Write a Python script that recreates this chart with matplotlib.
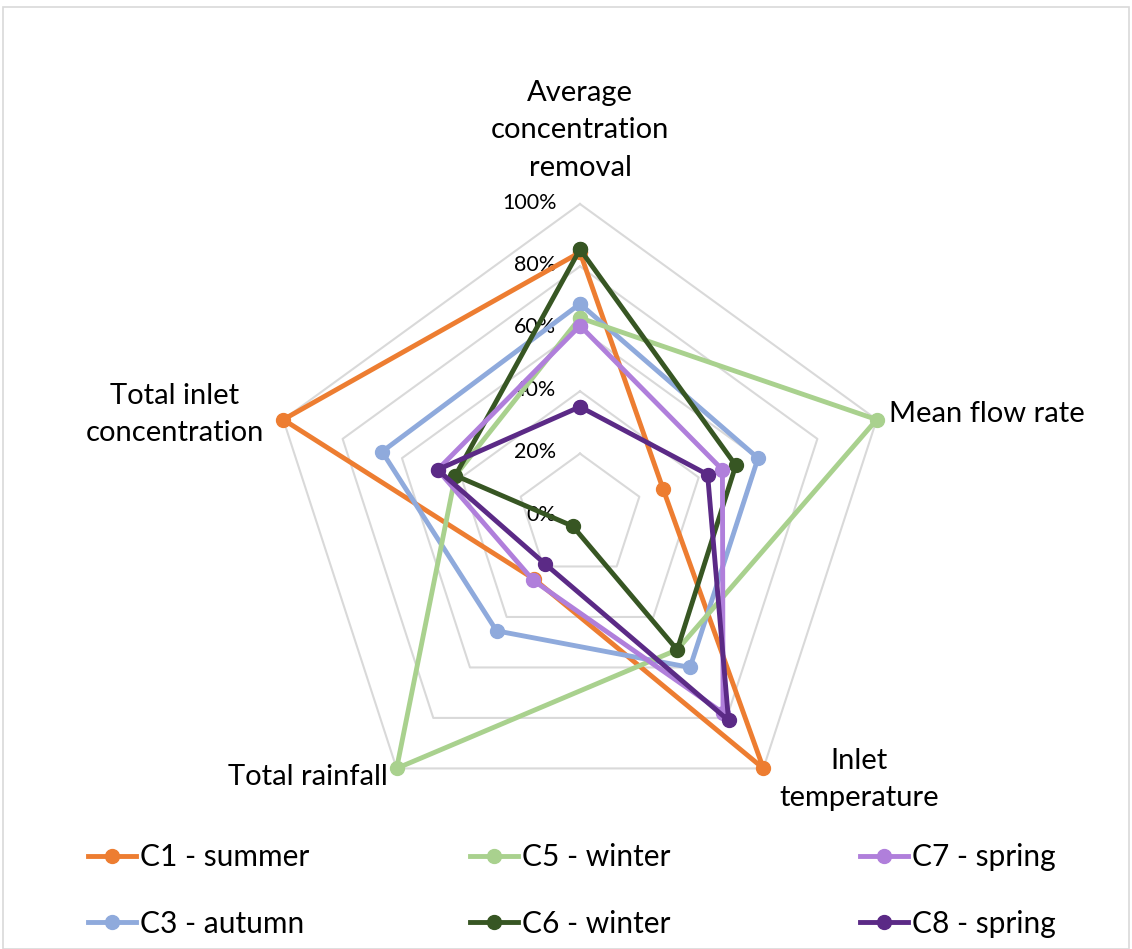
import numpy as np
import matplotlib
matplotlib.use("Agg")
import matplotlib.pyplot as plt
from matplotlib.patches import Rectangle

plt.rcParams['font.family'] = ['Lato', 'DejaVu Sans']

categories = ["Average\nconcentration\nremoval", "Mean flow rate", "Inlet\ntemperature",
              "Total rainfall", "Total inlet\nconcentration"]
series_names = ["C1 - summer", "C3 - autumn", "C5 - winter", "C6 - winter", "C7 - spring", "C8 - spring"]
c1 = [0.845, 0.28, 1.00, 0.25, 1.00]
c3 = [0.68, 0.60, 0.60, 0.455, 0.667]
c5 = [0.635, 1.00, 0.53, 1.00, 0.42]
c6 = [0.855, 0.525, 0.53, 0.04, 0.42]
c7 = [0.61, 0.48, 0.78, 0.255, 0.48]
c8 = [0.35, 0.43, 0.81, 0.19, 0.48]
series_values = [c1, c3, c5, c6, c7, c8]
colors = ["#ED7D31", "#8FAADC", "#A9D18E", "#375623", "#B07FDB", "#5B2A86"]
ring_values = [0.2, 0.4, 0.6, 0.8, 1.0]
tick_labels = ["0%", "20%", "40%", "60%", "80%", "100%"]

W, H = 1132, 949
fig = plt.figure(figsize=(W / 100, H / 100), dpi=100)
fig.patches.append(Rectangle((3 / W, 0), (W - 6) / W, (H - 7) / H, transform=fig.transFigure,
                             fill=False, edgecolor="#D9D9D9", linewidth=1.2))

cx, cy, R = 580, 516, 312
ax = fig.add_axes([(cx - R) / W, 1 - (cy + R) / H, 2 * R / W, 2 * R / H], projection="polar")
ax.set_theta_offset(np.pi / 2)
ax.set_theta_direction(-1)
ax.set_ylim(0, 1)
ax.grid(False)
ax.spines['polar'].set_visible(False)
ax.set_xticks([])
ax.set_yticks([])
ax.patch.set_alpha(0)

n = len(categories)
theta = np.linspace(0, 2 * np.pi, n, endpoint=False)
theta_c = np.append(theta, theta[0])

for r in ring_values:
    ax.plot(theta_c, [r] * (n + 1), color="#D9D9D9", linewidth=1.5, zorder=1, clip_on=False)

# radial tick labels
for i, lab in enumerate(tick_labels):
    r = i * 0.2
    ax.annotate(lab, xy=(0, r), xytext=(-17, 1), textcoords="offset points",
                ha="right", va="center", fontsize=15.5, color="#000000")

handles = []
for name, vals, col in zip(series_names, series_values, colors):
    v = np.append(vals, vals[0])
    h, = ax.plot(theta_c, v, color=col, linewidth=3.5, marker="o", markersize=10,
                 label=name, zorder=3, clip_on=False)
    handles.append(h)

# category labels
label_specs = [
    ((0, 53), "center", "center"),
    ((9, 4), "left", "center"),
    ((69, -8), "center", "center"),
    ((-6.5, -6.5), "right", "center"),
    ((-14, 3.6), "right", "center"),
]
for t, lab, (off, ha, va) in zip(theta, categories, label_specs):
    ax.annotate(lab, xy=(t, 1.0), xytext=off, textcoords="offset points",
                ha=ha, va=va, fontsize=21, multialignment="center", linespacing=1.55)

# legend: three columns at fixed positions
col_x = [88, 470, 860]
for k in range(3):
    hs = [handles[2 * k], handles[2 * k + 1]]
    fig.legend(handles=hs, labels=[h.get_label() for h in hs],
               loc="upper left", bbox_to_anchor=(col_x[k] / W, 1 - 843 / H),
               frameon=False, fontsize=21.5, handlelength=1.6, handletextpad=0.15,
               borderpad=0, borderaxespad=0, labelspacing=1.3, markerscale=1.0)

fig.savefig("out.png", dpi=100)
